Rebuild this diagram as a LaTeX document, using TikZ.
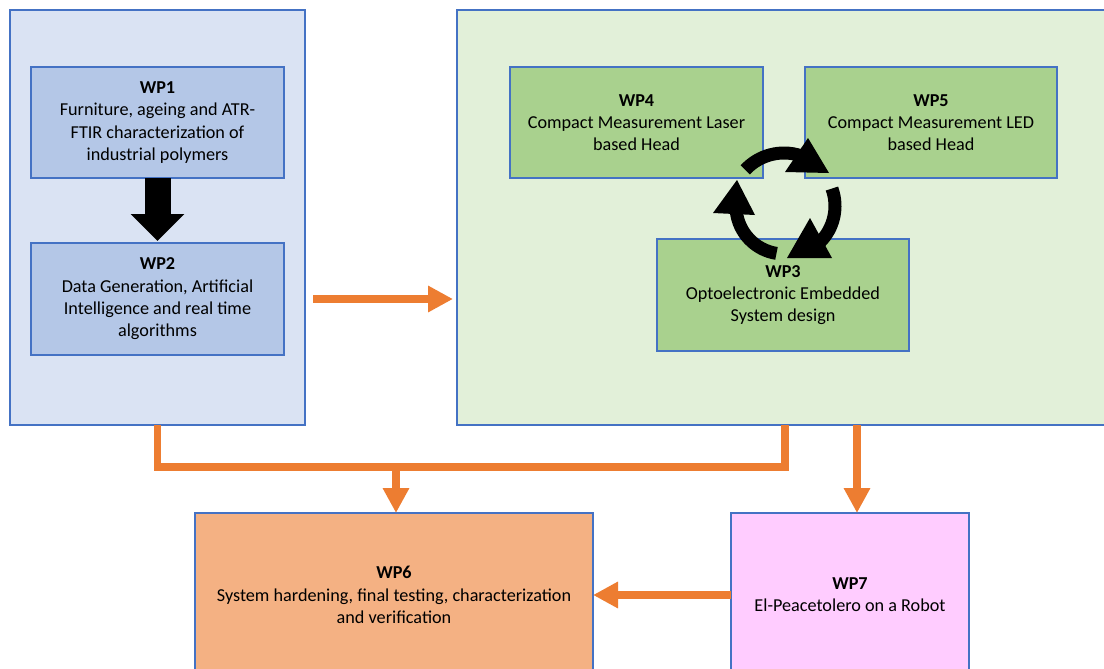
\documentclass[tikz,border=0pt]{standalone}
\usepackage{fontspec}
\setmainfont{Carlito}
\usetikzlibrary{arrows.meta}

\definecolor{frameblue}{HTML}{4472C4}
\definecolor{paleblue}{HTML}{DAE3F3}
\definecolor{midblue}{HTML}{B4C7E7}
\definecolor{palegreen}{HTML}{E2F0D9}
\definecolor{midgreen}{HTML}{A9D18E}
\definecolor{wporange}{HTML}{F4B183}
\definecolor{wppink}{HTML}{FFCCFF}
\definecolor{linkorange}{HTML}{ED7D31}

\newcommand\wpfont{\fontsize{18.2pt}{22.3pt}\selectfont}

\begin{document}
\begin{tikzpicture}[x=1pt,y=-1pt,
  wpbox/.style={draw=frameblue, line width=1.3pt, inner sep=0pt, outer sep=0pt,
    align=center, font=\wpfont},
  link/.style={draw=linkorange, line width=7.5pt, line join=miter},
  linktip/.style={-{Triangle[length=25pt,width=25pt]}},
  cycarc/.style={draw=black, line width=13pt},
  cychead/.style={fill=black}
]
\clip (0,0) rectangle (1104,669);
\fill[white] (0,0) rectangle (1104,669);

% group frames
\node[wpbox, fill=paleblue, minimum width=295pt, minimum height=415pt] (lbox) at (157.5,217.5) {};
\node[wpbox, fill=palegreen, minimum width=656pt, minimum height=415pt] (rbox) at (785,217.5) {};

% work packages
\node[wpbox, fill=midblue, minimum width=253pt, minimum height=111pt] (wp1) at (157.5,122.5)
  {\textbf{WP1}\\Furniture, ageing and ATR-\\FTIR characterization of\\industrial polymers};
\node[wpbox, fill=midblue, minimum width=253pt, minimum height=112pt] (wp2) at (157.5,299)
  {\textbf{WP2}\\Data Generation, Artificial\\Intelligence and real time\\algorithms};
\node[wpbox, fill=midgreen, minimum width=253pt, minimum height=111pt] (wp4) at (636.5,122.5)
  {\textbf{WP4}\\Compact Measurement Laser\\based Head};
\node[wpbox, fill=midgreen, minimum width=252pt, minimum height=111pt] (wp5) at (931,122.5)
  {\textbf{WP5}\\Compact Measurement LED\\based Head};
\node[wpbox, fill=midgreen, minimum width=252pt, minimum height=112pt] (wp3) at (783,295)
  {\textbf{WP3}\\Optoelectronic Embedded\\System design};
\node[wpbox, fill=wporange, minimum width=398pt, minimum height=164pt] (wp6) at (394,595)
  {\textbf{WP6}\\System hardening, final testing, characterization\\and verification};
\node[wpbox, fill=wppink, minimum width=238pt, minimum height=164pt] (wp7) at (850,595)
  {\textbf{WP7}\\El-Peacetolero on a Robot};

% WP1 feeds WP2
\draw[line width=26pt, -{Triangle[length=27pt,width=52pt]}, shorten >=2pt]
  (wp1.south) -- (wp2.north);

% iteration cycle between WP4, WP5 and WP3
\coordinate (cyc) at (784,206);
\draw[cycarc] (cyc) ++(-137:53) arc[start angle=-137, end angle=-72, radius=53];
\draw[cycarc] (cyc) ++(-20:51) arc[start angle=-20, end angle=45, radius=51];
\draw[cycarc] (cyc) ++(99:48) arc[start angle=99, end angle=174, radius=48];
\fill[cychead] (808,138) -- (785,172) -- (829,173) -- cycle;
\fill[cychead] (810,218) -- (787,258) -- (832,258) -- cycle;
\fill[cychead] (737,180) -- (713,213) -- (755,215) -- cycle;

% orange connectors
\draw[link, linktip] ([xshift=8pt]lbox.east |- wp2.east) -- ([xshift=-4pt]rbox.west |- wp2.east);
\coordinate (bus) at (396,467);
\draw[link] (lbox.south) |- (bus) -| (rbox.south);
\draw[link, linktip] (bus) -- (bus |- wp6.north);
\draw[link, linktip] ([xshift=72pt]rbox.south) -- ([xshift=72pt]rbox.south |- wp7.north);
\draw[link, linktip] (wp7.west) -- (wp6.east);
\end{tikzpicture}
\end{document}
